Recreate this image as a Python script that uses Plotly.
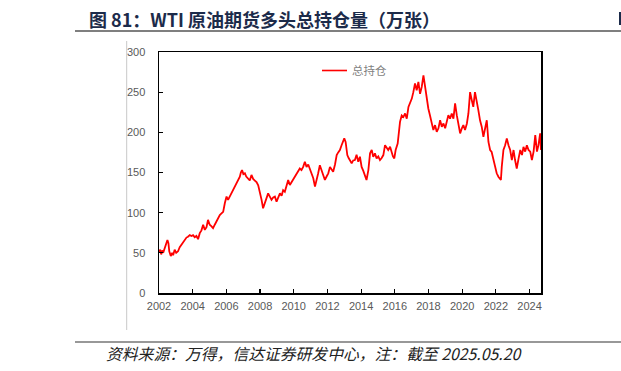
import plotly.graph_objects as go

# ---- data ----
years = [
    2002.01, 2002.07, 2002.13, 2002.19, 2002.25, 2002.34, 2002.43, 2002.50, 2002.56, 2002.61,
    2002.70, 2002.78, 2002.84, 2002.93, 2003.02, 2003.13, 2003.23, 2003.33, 2003.44, 2003.53,
    2003.63, 2003.72, 2003.83, 2003.93, 2004.02, 2004.12, 2004.22, 2004.32, 2004.42, 2004.52,
    2004.62, 2004.72, 2004.82, 2004.91, 2005.01, 2005.12, 2005.21, 2005.31, 2005.41, 2005.51,
    2005.61, 2005.71, 2005.81, 2005.91, 2006.01, 2006.10, 2006.20, 2006.30, 2006.40, 2006.50,
    2006.60, 2006.70, 2006.80, 2006.86, 2006.93, 2007.01, 2007.10, 2007.18, 2007.29, 2007.39,
    2007.49, 2007.59, 2007.69, 2007.79, 2007.89, 2007.99, 2008.09, 2008.18, 2008.25, 2008.39,
    2008.48, 2008.58, 2008.68, 2008.78, 2008.88, 2008.98, 2009.07, 2009.18, 2009.28, 2009.37,
    2009.47, 2009.57, 2009.67, 2009.77, 2009.87, 2009.97, 2010.07, 2010.17, 2010.26, 2010.36,
    2010.46, 2010.56, 2010.66, 2010.76, 2010.86, 2010.96, 2011.06, 2011.16, 2011.26, 2011.36,
    2011.45, 2011.55, 2011.65, 2011.75, 2011.85, 2011.95, 2012.05, 2012.15, 2012.25, 2012.34,
    2012.45, 2012.55, 2012.64, 2012.74, 2012.84, 2012.92, 2013.00, 2013.08, 2013.14, 2013.18,
    2013.26, 2013.34, 2013.44, 2013.53, 2013.63, 2013.73, 2013.83, 2013.93, 2014.03, 2014.13,
    2014.22, 2014.32, 2014.43, 2014.53, 2014.63, 2014.72, 2014.82, 2014.92, 2015.02, 2015.12,
    2015.22, 2015.32, 2015.42, 2015.52, 2015.61, 2015.72, 2015.81, 2015.89, 2015.97, 2016.05,
    2016.17, 2016.25, 2016.31, 2016.41, 2016.51, 2016.61, 2016.71, 2016.81, 2016.91, 2017.01,
    2017.10, 2017.20, 2017.30, 2017.40, 2017.50, 2017.60, 2017.70, 2017.80, 2017.90, 2017.99,
    2018.09, 2018.19, 2018.29, 2018.39, 2018.49, 2018.59, 2018.69, 2018.79, 2018.89, 2018.99,
    2019.09, 2019.18, 2019.28, 2019.38, 2019.48, 2019.58, 2019.68, 2019.78, 2019.88, 2019.98,
    2020.07, 2020.17, 2020.28, 2020.37, 2020.47, 2020.57, 2020.66, 2020.76, 2020.86, 2020.96,
    2021.06, 2021.16, 2021.26, 2021.36, 2021.46, 2021.56, 2021.66, 2021.75, 2021.86, 2021.95,
    2022.05, 2022.15, 2022.30, 2022.35, 2022.45, 2022.55, 2022.65, 2022.75, 2022.85, 2022.95,
    2023.05, 2023.14, 2023.24, 2023.35, 2023.45, 2023.55, 2023.64, 2023.74, 2023.84, 2023.94,
    2024.04, 2024.14, 2024.24, 2024.34, 2024.44, 2024.53, 2024.63, 2024.68,
]
total_positions = [
    50, 54, 48, 53, 50, 56, 60, 66, 62, 52,
    46, 50, 47, 54, 50, 52, 57, 60, 64, 67,
    69, 70, 72, 71, 72, 69.5, 71, 67, 74.5, 78,
    85, 78.6, 82, 91, 85, 83, 80.7, 85, 89, 93,
    97, 99, 101, 112, 120, 116, 120, 125, 130, 133,
    136.6, 140, 144.8, 150, 153, 148, 149, 145, 142.8, 140,
    147, 142, 140, 138, 134, 126, 116, 105.5, 110, 120,
    124, 120, 116, 119, 120, 113.7, 118, 124, 121, 128,
    126, 132, 140.7, 134.5, 138, 142.8, 145, 149, 152, 155,
    153, 157, 163.4, 157, 160, 155, 150, 142.8, 132.4, 140,
    149, 159, 152, 146.9, 140.7, 145, 149, 157, 154, 151,
    160, 171.7, 175, 178, 184, 188, 192.5, 188, 180, 171.7,
    168, 165.5, 161.4, 165, 165.5, 172, 163.4, 169.6, 157, 152,
    147, 140.7, 153, 173.8, 178, 169.6, 173.8, 167.6, 170, 165.5,
    168, 171.7, 184, 180, 178, 182, 173.8, 170, 167.6, 178,
    186, 202.8, 213, 221, 219, 223.5, 217, 231.7, 236, 242,
    250, 260.8, 252.4, 262.7, 248, 256.5, 271, 256.5, 240, 229.7,
    221, 211, 202.8, 209, 200.7, 205, 215, 207, 211, 205,
    215, 221.4, 217, 223.5, 217, 236, 221.4, 211, 198.7, 205,
    209, 202.8, 211, 223.5, 250, 240, 231.7, 250, 240, 227.6,
    215, 207, 194.5, 205, 215, 188, 178, 175.6, 165.5, 155,
    149, 144.8, 140.7, 157, 178, 184, 192.5, 184, 178, 165.5,
    178, 165.5, 155, 167.6, 178, 171.7, 182, 176, 184, 178,
    176, 165.5, 176, 196.6, 176, 184, 198.7, 178,
]
series_name = "总持仓"
tick_years = [2002, 2004, 2006, 2008, 2010, 2012, 2014, 2016, 2018, 2020, 2022, 2024]
tick_labels = [str(y) for y in tick_years]
y_ticks = [0, 50, 100, 150, 200, 250, 300]

title_text = "图 81：WTI 原油期货多头总持仓量（万张）"
source_text = "资料来源：万得，信达证券研发中心，注：截至 2025.05.20"

# ---- layout geometry (pixels) ----
W, H = 621, 371
PL, PR, PT, PB = 159, 541, 52, 293


def px(x):
    return (x - PL) / (PR - PL)


def py(y):
    return (PB - y) / (PB - PT)


fig = go.Figure()
fig.add_trace(go.Scatter(
    x=years, y=total_positions, mode="lines", name=series_name,
    line=dict(color="#FF0000", width=1.8),
    showlegend=False,
))

axis_font = dict(family="Liberation Sans, Arial, sans-serif", size=11, color="#595959")

fig.update_layout(
    width=W, height=H, autosize=False,
    margin=dict(l=PL, r=W - PR, t=PT, b=H - PB, pad=0),
    paper_bgcolor="white", plot_bgcolor="white",
    xaxis=dict(
        range=[2002, 2024.68], tickvals=tick_years, ticktext=tick_labels,
        showgrid=False, zeroline=False, showline=True, linecolor="black", linewidth=1.5,
        mirror=True, ticks="inside", ticklen=4, tickcolor="black", tickwidth=1.2,
        tickfont=axis_font, ticklabelstandoff=2,
    ),
    yaxis=dict(
        range=[0, 300], tickvals=y_ticks,
        showgrid=False, zeroline=False, showline=True, linecolor="black", linewidth=1.5,
        mirror=True, ticks="inside", ticklen=4, tickcolor="black", tickwidth=1.2,
        tickfont=axis_font, ticklabelstandoff=10,
    ),
)

shapes = []
# title underline
shapes.append(dict(type="line", xref="paper", yref="paper",
                   x0=px(75), x1=px(621), y0=py(31), y1=py(31),
                   line=dict(color="#555555", width=1.5)))
# footer line
shapes.append(dict(type="line", xref="paper", yref="paper",
                   x0=px(75), x1=px(621), y0=py(342), y1=py(342),
                   line=dict(color="#333333", width=1.2)))
# light grey vertical frame line
shapes.append(dict(type="line", xref="paper", yref="paper",
                   x0=px(126.7), x1=px(126.7), y0=py(41), y1=py(330),
                   line=dict(color="#c8c8c8", width=1)))
# small dark mark at top right
shapes.append(dict(type="rect", xref="paper", yref="paper",
                   x0=px(619), x1=px(622), y0=py(12), y1=py(25),
                   line=dict(width=0), fillcolor="#1c2b4a"))
# legend sample line
shapes.append(dict(type="line", xref="paper", yref="paper",
                   x0=px(322), x1=px(347), y0=py(70.5), y1=py(70.5),
                   line=dict(color="#FF0000", width=1.6)))
fig.update_layout(shapes=shapes)

annotations = [
    dict(text="<b>" + title_text + "</b>", xref="paper", yref="paper",
         x=px(87), y=py(18.5), xanchor="left", yanchor="middle", showarrow=False,
         font=dict(family="Noto Sans CJK SC, sans-serif", size=18, color="#1c2b4a")),
    dict(text="<i>" + source_text + "</i>", xref="paper", yref="paper",
         x=px(104), y=py(353), xanchor="left", yanchor="middle", showarrow=False,
         font=dict(family="Noto Sans CJK SC, sans-serif", size=15.8, color="#222222")),
    dict(text=series_name, xref="paper", yref="paper",
         x=px(350), y=py(70.5), xanchor="left", yanchor="middle", showarrow=False,
         font=dict(family="Noto Sans CJK SC, sans-serif", size=11.5, color="#7f7f7f")),
]
fig.update_layout(annotations=annotations)

fig.write_html(
    "out.html",
    config={"displayModeBar": False, "staticPlot": True},
    post_script="document.body.style.margin='0px';document.body.style.overflow='hidden';",
)
